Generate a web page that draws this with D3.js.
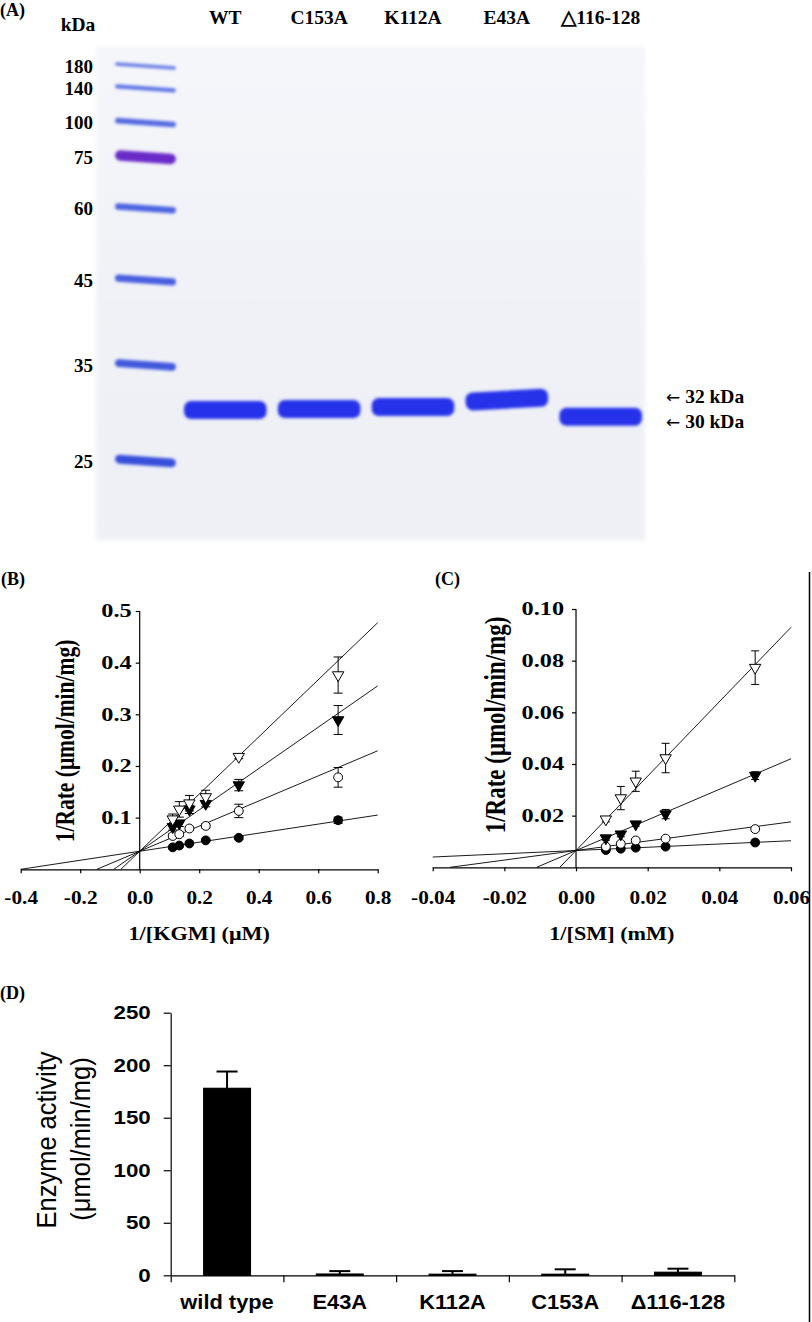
<!DOCTYPE html>
<html><head><meta charset="utf-8">
<script src="https://cdn.jsdelivr.net/npm/d3@7"></script>
<style>body{margin:0;background:#fff} svg{display:block}</style>
</head><body>
<svg id="fig" width="812" height="1322"></svg>
<script>
// ================= DATA =================
// (A) SDS-PAGE: marker ladder (relative mobility Rf read from the gel)
const ladderKDa = [180, 140, 100, 75, 60, 45, 35, 25];
const ladderRf = [0.0405, 0.0856, 0.155, 0.225, 0.3286, 0.4737, 0.6457, 0.8401];
const ladderIntensity = [0.35, 0.42, 0.55, 1.0, 0.62, 0.68, 0.75, 0.85];
const ladderReferenceKDa = 75;
// sample lanes and apparent molecular weight of their band
const sampleLanes = ["WT", "C153A", "K112A", "E43A", "△116-128"];
const sampleKDa = [29.9, 30.0, 30.2, 31.0, 29.2];
const markerLabels = ["32 kDa", "30 kDa"];
const markerLanes = ["E43A", "△116-128"];

// (B) 1/Rate vs 1/[KGM]
const kgmX = [0.111, 0.133, 0.167, 0.222, 0.333, 0.667];
const bFilledCircle = [0.0425, 0.046, 0.050, 0.056, 0.061, 0.095];
const bFilledCircleErr = [0.002, 0.002, 0.002, 0.002, 0.003, 0.006];
const bOpenCircle = [0.0645, 0.068, 0.079, 0.084, 0.113, 0.178];
const bOpenCircleErr = [0.004, 0.004, 0.004, 0.004, 0.013, 0.019];
const bFilledTri = [0.082, 0.089, 0.116, 0.127, 0.163, 0.289];
const bFilledTriErr = [0.006, 0.006, 0.008, 0.006, 0.011, 0.028];
const bOpenTri = [0.097, 0.116, 0.128, 0.140, 0.218, 0.376];
const bOpenTriErr = [0.010, 0.015, 0.015, 0.013, 0.004, 0.035];
const bIntercept = 0.035;
const bSlopes = [0.0875, 0.243, 0.40, 0.553];
const bXTicks = [-0.4, -0.2, 0.0, 0.2, 0.4, 0.6, 0.8];
const bYTicks = [0.1, 0.2, 0.3, 0.4, 0.5];

// (C) 1/Rate vs 1/[SM]
const smX = [0.00833, 0.0125, 0.01667, 0.025, 0.05];
const cFilledCircle = [0.0067, 0.0072, 0.0076, 0.0080, 0.0096];
const cFilledCircleErr = [0.0004, 0.0004, 0.0004, 0.0004, 0.0005];
const cOpenCircle = [0.0080, 0.0091, 0.0104, 0.0111, 0.0148];
const cOpenCircleErr = [0.0006, 0.0008, 0.0008, 0.0006, 0.0006];
const cFilledTri = [0.0113, 0.0128, 0.0167, 0.0206, 0.0355];
const cFilledTriErr = [0.0008, 0.0010, 0.0008, 0.0018, 0.0015];
const cOpenTri = [0.0186, 0.0268, 0.0333, 0.0423, 0.0773];
const cOpenTriErr = [0.0010, 0.0045, 0.0039, 0.0057, 0.0065];
const cIntercept = 0.0065;
const cSlopes = [0.063, 0.185, 0.592, 1.44];
const cXTicks = [-0.04, -0.02, 0.00, 0.02, 0.04, 0.06];
const cYTicks = [0.02, 0.04, 0.06, 0.08, 0.10];

// (D) enzyme activity
const dCategories = ["wild type", "E43A", "K112A", "C153A", "Δ116-128"];
const dValues = [178, 1.2, 1.0, 1.0, 2.9];
const dErrors = [16, 2.8, 3.0, 4.7, 3.4];
const dYTicks = [0, 50, 100, 150, 200, 250];

// ================= STYLE / HELPERS =================
const SERIF = "'Liberation Serif','Times New Roman',Times,serif";
const SANS = "'Liberation Sans',Arial,Helvetica,sans-serif";
const svg = d3.select("#fig");
const defs = svg.append("defs");

function stretch(sel, k) {
  sel.each(function () {
    const t = d3.select(this);
    const x = +(t.attr("x") || 0);
    t.attr("x", x / k).attr("transform", `scale(${k},1)`);
  });
}
function label(txt, x, y, opt = {}) {
  const t = svg.append("text").attr("x", x).attr("y", y).text(txt)
    .attr("font-family", opt.family || SERIF)
    .attr("font-weight", opt.weight || "bold")
    .attr("font-size", opt.size || 18)
    .attr("text-anchor", opt.anchor || "start")
    .attr("fill", "#000");
  if (opt.sx) stretch(t, opt.sx);
  return t;
}
function vlabel(txt, cx, cy, opt = {}) {
  return svg.append("text")
    .attr("transform", `translate(${cx},${cy}) scale(${opt.sx || 1},1) rotate(-90)`)
    .attr("text-anchor", "middle").attr("dy", "0.35em")
    .attr("font-family", opt.family || SERIF)
    .attr("font-weight", opt.weight || "bold")
    .attr("font-size", opt.size || 20)
    .text(txt);
}
const hyphenFmt = f => d => d3.format(f)(d).replace("−", "-");

// ================= (A) GEL =================
const gel = { x0: 96, x1: 645, y0: 46, y1: 540 };
const grad = defs.append("linearGradient").attr("id", "gelbg").attr("x1", 0).attr("y1", 0).attr("x2", 0).attr("y2", 1);
grad.append("stop").attr("offset", "0%").attr("stop-color", "#f5f6fa");
grad.append("stop").attr("offset", "60%").attr("stop-color", "#eff1f7");
grad.append("stop").attr("offset", "100%").attr("stop-color", "#eef0f6");
defs.append("filter").attr("id", "soft").attr("x", "-5%").attr("y", "-5%").attr("width", "110%").attr("height", "110%")
  .append("feGaussianBlur").attr("stdDeviation", 2.5);
defs.append("filter").attr("id", "bandblur").attr("x", "-20%").attr("y", "-60%").attr("width", "140%").attr("height", "220%")
  .append("feGaussianBlur").attr("stdDeviation", 1.4);
defs.append("filter").attr("id", "ladblur").attr("x", "-20%").attr("y", "-100%").attr("width", "140%").attr("height", "300%")
  .append("feGaussianBlur").attr("stdDeviation", 1.5);

svg.append("rect").attr("x", gel.x0).attr("y", gel.y0).attr("width", gel.x1 - gel.x0).attr("height", gel.y1 - gel.y0)
  .attr("fill", "url(#gelbg)").attr("filter", "url(#soft)");

const yRf = d3.scaleLinear().domain([0, 1]).range([gel.y0, gel.y1]);
const mwToRf = d3.scaleLog().domain(ladderKDa).range(ladderRf);
const laneX = d3.scaleBand().domain(sampleLanes).range([184, 642]).paddingInner(0.12).paddingOuter(0);
const ladderLane = d3.scaleBand().domain(["M"]).range([115, 176]);
const thick = d3.scaleLinear().domain([0.3, 1]).range([3, 10.5]);
const ladderColor = d3.interpolateRgb("#8799ec", "#2a42d8");

const ladderData = ladderKDa.map((k, i) => ({ k, rf: ladderRf[i], inten: ladderIntensity[i] }));
const ladderG = svg.append("g").attr("filter", "url(#ladblur)");
ladderG.selectAll("rect").data(ladderData).join("rect")
  .attr("x", ladderLane("M"))
  .attr("width", ladderLane.bandwidth())
  .attr("y", d => yRf(d.rf) - thick(d.inten) / 2)
  .attr("height", d => thick(d.inten))
  .attr("rx", d => thick(d.inten) / 2)
  .attr("fill", d => d.k === ladderReferenceKDa ? "#6a2bc8" : ladderColor(d.inten))
  .attr("transform", d => `rotate(4,${ladderLane("M") + ladderLane.bandwidth() / 2},${yRf(d.rf)})`);

svg.selectAll("text.lad").data(ladderData).join("text").attr("class", "lad")
  .attr("x", 93).attr("y", d => yRf(d.rf)).attr("dy", "0.35em")
  .attr("text-anchor", "end").attr("font-family", SERIF).attr("font-weight", "bold").attr("font-size", 19)
  .text(d => d.k);

const sampleData = sampleLanes.map((l, i) => ({ l, kda: sampleKDa[i], y: yRf(mwToRf(sampleKDa[i])) }));
const sampleG = svg.append("g").attr("filter", "url(#bandblur)");
sampleG.selectAll("rect").data(sampleData).join("rect")
  .attr("x", d => laneX(d.l))
  .attr("width", laneX.bandwidth())
  .attr("y", d => d.y - 9)
  .attr("height", 18)
  .attr("rx", 7)
  .attr("fill", "#2830ea")
  .attr("transform", d => d.l === "E43A" ? `rotate(-3,${laneX(d.l) + laneX.bandwidth() / 2},${d.y})` : null);

// header
label("(A)", 0, 16, { size: 18 });
label("kDa", 78, 31, { size: 19.5, anchor: "middle" });
svg.selectAll("text.lane").data(sampleLanes).join("text").attr("class", "lane")
  .attr("x", d => laneX(d) + laneX.bandwidth() / 2).attr("y", 24)
  .attr("text-anchor", "middle").attr("font-family", SERIF).attr("font-weight", "bold").attr("font-size", 19.5)
  .text(d => d);
// size markers at right
markerLabels.forEach((t, i) => {
  const s = sampleData.find(d => d.l === markerLanes[i]);
  const txt = svg.append("text").attr("x", 666).attr("y", s.y + (i === 0 ? -3 : 4)).attr("dy", "0.35em")
    .attr("font-family", SERIF).attr("font-weight", "bold").attr("font-size", 19.5);
  txt.append("tspan").attr("font-family", "'DejaVu Sans',sans-serif").attr("font-weight", "normal").attr("font-size", 17).text("←");
  txt.append("tspan").text(" " + t);
});

// ================= (B) and (C) =================
const markerStyles = [
  { type: d3.symbolCircle, fill: "#000", rot: 0, size: 62 },
  { type: d3.symbolCircle, fill: "#fff", rot: 0, size: 62 },
  { type: d3.symbolTriangle, fill: "#000", rot: 180, size: 56 },
  { type: d3.symbolTriangle, fill: "#fff", rot: 180, size: 56 }
];

function kinetics(cfg) {
  const g = svg.append("g");
  const x = d3.scaleLinear().domain(cfg.xDomain).range(cfg.xRange);
  const y = d3.scaleLinear().domain(cfg.yDomain).range(cfg.yRange);

  cfg.slopes.forEach(s => {
    const xi = Math.max(cfg.xDomain[0], -cfg.intercept / s);
    const x2 = cfg.xDomain[1];
    g.append("line")
      .attr("x1", x(xi)).attr("y1", y(cfg.intercept + s * xi))
      .attr("x2", x(x2)).attr("y2", y(cfg.intercept + s * x2))
      .attr("stroke", "#000").attr("stroke-width", 0.9);
  });

  const xa = g.append("g").attr("transform", `translate(0,${y(0)})`)
    .call(d3.axisBottom(x).tickValues(cfg.xTicks).tickFormat(hyphenFmt(cfg.xFmt)).tickSize(4).tickSizeOuter(0).tickPadding(cfg.xPad));
  const ya = g.append("g").attr("transform", `translate(${x(0)},0)`)
    .call(d3.axisLeft(y).tickValues(cfg.yTicks).tickFormat(hyphenFmt(cfg.yFmt)).tickSize(4).tickSizeOuter(0).tickPadding(cfg.yPad));
  [xa, ya].forEach(a => {
    a.selectAll("path,line").attr("stroke", "#000").attr("stroke-width", 1.2);
    a.selectAll("text").attr("font-family", SERIF).attr("font-weight", "bold").attr("fill", "#000");
  });
  xa.selectAll("text").attr("font-size", 19).call(stretch, 1.12);
  ya.selectAll("text").attr("font-size", 18).call(stretch, 1.35);
  ya.select("path.domain").attr("d", `M0,${y(0)}V${y(cfg.yDomain[1])}`);

  cfg.series.forEach((ser, si) => {
    const pts = cfg.xs.map((xv, i) => ({ x: xv, y: ser.vals[i], e: ser.err[i] }));
    const eg = g.append("g").attr("stroke", "#000").attr("stroke-width", 1);
    pts.forEach(p => {
      eg.append("line").attr("x1", x(p.x)).attr("x2", x(p.x)).attr("y1", y(p.y - p.e)).attr("y2", y(p.y + p.e));
      [p.y - p.e, p.y + p.e].forEach(v => eg.append("line")
        .attr("x1", x(p.x) - cfg.cap / 2).attr("x2", x(p.x) + cfg.cap / 2).attr("y1", y(v)).attr("y2", y(v)));
    });
    const st = markerStyles[si];
    g.append("g").selectAll("path").data(pts).join("path")
      .attr("d", d3.symbol().type(st.type).size(st.size))
      .attr("transform", d => `translate(${x(d.x)},${y(d.y)}) rotate(${st.rot})`)
      .attr("fill", st.fill).attr("stroke", "#000").attr("stroke-width", 1);
  });

  label(cfg.xTitle, (cfg.xRange[0] + cfg.xRange[1]) / 2, cfg.xTitleY, { size: 19.5, anchor: "middle", sx: 1.14 });
  vlabel("1/Rate (μmol/min/mg)", cfg.yTitleX, cfg.yTitleY, { size: cfg.yTitleSize, sx: 1.25 });
  label(cfg.panel, cfg.panelX, 585, { size: 18 });
}

kinetics({
  panel: "(B)", panelX: 1,
  xDomain: [-0.4, 0.8], xRange: [20.7, 377.7],
  yDomain: [0, 0.5], yRange: [869.3, 611],
  xTicks: bXTicks, yTicks: bYTicks, xFmt: ".1f", yFmt: ".1f", xPad: 17, yPad: 4,
  xs: kgmX,
  series: [
    { vals: bFilledCircle, err: bFilledCircleErr },
    { vals: bOpenCircle, err: bOpenCircleErr },
    { vals: bFilledTri, err: bFilledTriErr },
    { vals: bOpenTri, err: bOpenTriErr }
  ],
  intercept: bIntercept, slopes: bSlopes, cap: 9,
  xTitle: "1/[KGM] (μM)", xTitleY: 940,
  yTitleX: 65, yTitleY: 741, yTitleSize: 21.5
});

kinetics({
  panel: "(C)", panelX: 435,
  xDomain: [-0.04, 0.06], xRange: [432.7, 791],
  yDomain: [0, 0.1], yRange: [867.3, 609],
  xTicks: cXTicks, yTicks: cYTicks, xFmt: ".2f", yFmt: ".2f", xPad: 19, yPad: 8,
  xs: smX,
  series: [
    { vals: cFilledCircle, err: cFilledCircleErr },
    { vals: cOpenCircle, err: cOpenCircleErr },
    { vals: cFilledTri, err: cFilledTriErr },
    { vals: cOpenTri, err: cOpenTriErr }
  ],
  intercept: cIntercept, slopes: cSlopes, cap: 8,
  xTitle: "1/[SM] (mM)", xTitleY: 940,
  yTitleX: 495, yTitleY: 725, yTitleSize: 23
});

// ================= (D) BAR CHART =================
{
  const g = svg.append("g");
  const x = d3.scaleBand().domain(dCategories).range([170.7, 734.3]).paddingInner(0).paddingOuter(0);
  const xb = d3.scaleLinear().domain([0, dCategories.length]).range([170.7, 734.3]);
  const y = d3.scaleLinear().domain([0, 250]).range([1275.3, 1012.7]);
  const bw = x.bandwidth() * 0.415;
  const data = dCategories.map((c, i) => ({ c, v: dValues[i], e: dErrors[i] }));

  const eg = g.append("g").attr("stroke", "#000").attr("stroke-width", 2);
  data.forEach(d => {
    const cx = x(d.c) + x.bandwidth() / 2;
    eg.append("line").attr("x1", cx).attr("x2", cx).attr("y1", y(d.v)).attr("y2", y(d.v + d.e));
    eg.append("line").attr("x1", cx - 10.5).attr("x2", cx + 10.5).attr("y1", y(d.v + d.e)).attr("y2", y(d.v + d.e));
  });
  g.append("g").selectAll("rect").data(data).join("rect")
    .attr("x", d => x(d.c) + (x.bandwidth() - bw) / 2)
    .attr("width", bw)
    .attr("y", d => y(d.v))
    .attr("height", d => y(0) - y(d.v))
    .attr("fill", "#000").attr("stroke", "#000").attr("stroke-width", 1.2);

  const ya = g.append("g").attr("transform", `translate(170.7,0)`)
    .call(d3.axisLeft(y).tickValues(dYTicks).tickSize(7).tickSizeOuter(0).tickPadding(13));
  const xt = g.append("g").attr("transform", `translate(0,${y(0)})`)
    .call(d3.axisBottom(xb).tickValues(d3.range(0, dCategories.length + 1)).tickFormat("").tickSize(7).tickSizeOuter(0));
  const xl = g.append("g").attr("transform", `translate(0,${y(0)})`)
    .call(d3.axisBottom(x).tickSize(0).tickPadding(19));
  xl.select("path.domain").remove();
  [ya, xt].forEach(a => a.selectAll("path,line").attr("stroke", "#000").attr("stroke-width", 1.2));
  ya.selectAll("text").attr("font-family", SANS).attr("font-weight", "bold").attr("font-size", 18.6).attr("fill", "#000").call(stretch, 1.2);
  xl.selectAll("text").attr("font-family", SANS).attr("font-weight", "bold").attr("font-size", 21).attr("fill", "#000").call(stretch, 1.04);

  vlabel("Enzyme activity", 46, 1140, { family: SANS, weight: "normal", size: 25.5, sx: 1.08 });
  vlabel("(μmol/min/mg)", 80, 1139, { family: SANS, weight: "normal", size: 25.5, sx: 1.08 });
  label("(D)", 0, 999, { size: 18 });
}

// right border line
svg.append("line").attr("x1", 809.5).attr("x2", 809.5).attr("y1", 572).attr("y2", 1322)
  .attr("stroke", "#000").attr("stroke-width", 1.5);
</script>
</body></html>
